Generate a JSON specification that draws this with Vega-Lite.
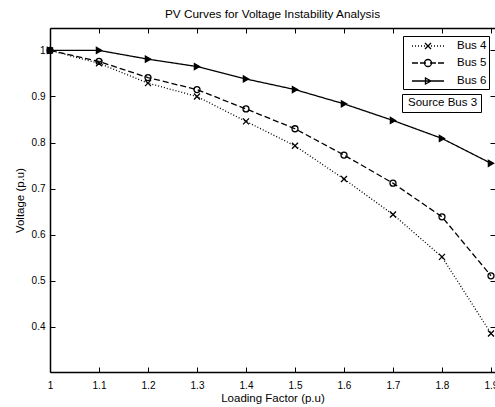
{
  "$schema": "https://vega.github.io/schema/vega-lite/v6.json",
  "width": 445,
  "height": 344,
  "autosize": {"type": "none"},
  "padding": {"left": 50, "top": 28, "right": 0, "bottom": 35},
  "background": "white",
  "title": {"text": "PV Curves for Voltage Instability Analysis", "fontSize": 11.8, "fontWeight": "normal", "font": "Liberation Sans", "color": "black", "offset": 7, "anchor": "middle"},
  "config": {
    "view": {"stroke": null},
    "font": "Liberation Sans",
    "axis": {"labelFont": "Liberation Sans", "titleFont": "Liberation Sans", "labelColor": "black", "titleColor": "black", "domainColor": "black", "tickColor": "black", "grid": false, "titleFontWeight": "normal", "labelFontSize": 10, "titleFontSize": 11.5, "domainWidth": 1.5, "tickWidth": 1, "tickSize": -5, "labelFlush": false, "labelOverlap": false, "labelBound": false}
  },
  "data": {"values": [
    {"lf": 1.0, "v": 1.0, "bus": "Bus 4"},
    {"lf": 1.1, "v": 0.972, "bus": "Bus 4"},
    {"lf": 1.2, "v": 0.929, "bus": "Bus 4"},
    {"lf": 1.3, "v": 0.900, "bus": "Bus 4"},
    {"lf": 1.4, "v": 0.846, "bus": "Bus 4"},
    {"lf": 1.5, "v": 0.793, "bus": "Bus 4"},
    {"lf": 1.6, "v": 0.721, "bus": "Bus 4"},
    {"lf": 1.7, "v": 0.644, "bus": "Bus 4"},
    {"lf": 1.8, "v": 0.552, "bus": "Bus 4"},
    {"lf": 1.9, "v": 0.386, "bus": "Bus 4"},
    {"lf": 1.0, "v": 1.0, "bus": "Bus 5"},
    {"lf": 1.1, "v": 0.976, "bus": "Bus 5"},
    {"lf": 1.2, "v": 0.941, "bus": "Bus 5"},
    {"lf": 1.3, "v": 0.915, "bus": "Bus 5"},
    {"lf": 1.4, "v": 0.873, "bus": "Bus 5"},
    {"lf": 1.5, "v": 0.830, "bus": "Bus 5"},
    {"lf": 1.6, "v": 0.773, "bus": "Bus 5"},
    {"lf": 1.7, "v": 0.712, "bus": "Bus 5"},
    {"lf": 1.8, "v": 0.639, "bus": "Bus 5"},
    {"lf": 1.9, "v": 0.511, "bus": "Bus 5"},
    {"lf": 1.0, "v": 1.0, "bus": "Bus 6"},
    {"lf": 1.1, "v": 1.0, "bus": "Bus 6"},
    {"lf": 1.2, "v": 0.981, "bus": "Bus 6"},
    {"lf": 1.3, "v": 0.965, "bus": "Bus 6"},
    {"lf": 1.4, "v": 0.938, "bus": "Bus 6"},
    {"lf": 1.5, "v": 0.915, "bus": "Bus 6"},
    {"lf": 1.6, "v": 0.884, "bus": "Bus 6"},
    {"lf": 1.7, "v": 0.848, "bus": "Bus 6"},
    {"lf": 1.8, "v": 0.809, "bus": "Bus 6"},
    {"lf": 1.9, "v": 0.755, "bus": "Bus 6"}
  ]},
  "resolve": {"axis": {"x": "independent", "y": "independent"}, "scale": {"shape": "independent"}},
  "layer": [
    {
      "mark": {"type": "line", "color": "black", "strokeWidth": 1.3},
      "encoding": {
        "x": {"field": "lf", "type": "quantitative", "scale": {"domain": [1, 1.9082], "nice": false, "zero": false},
              "axis": {"orient": "bottom", "values": [1, 1.1, 1.2, 1.3, 1.4, 1.5, 1.6, 1.7, 1.8, 1.9], "format": ".1~f", "title": "Loading Factor (p.u)", "labelPadding": 13, "titlePadding": 2, "titleColor": "black"}},
        "y": {"field": "v", "type": "quantitative", "scale": {"domain": [0.3023, 1.0486], "nice": false, "zero": false},
              "axis": {"orient": "left", "values": [0.4, 0.5, 0.6, 0.7, 0.8, 0.9, 1], "format": ".1~f", "title": "Voltage (p.u)", "labelPadding": 10, "titlePadding": 6, "titleColor": "black"}},
        "strokeDash": {"field": "bus", "type": "nominal", "scale": {"range": [[1, 2], [6, 3], [1, 0]]}, "legend": null}
      }
    },
    {
      "mark": {"type": "point", "color": "black", "stroke": "black", "strokeWidth": 1.3, "size": 36, "opacity": 1},
      "encoding": {
        "x": {"field": "lf", "type": "quantitative",
              "axis": {"orient": "top", "values": [1, 1.1, 1.2, 1.3, 1.4, 1.5, 1.6, 1.7, 1.8, 1.9], "labels": false, "title": null}},
        "y": {"field": "v", "type": "quantitative",
              "axis": {"orient": "right", "values": [0.4, 0.5, 0.6, 0.7, 0.8, 0.9, 1], "labels": false, "domain": false, "title": null}},
        "fill": {"field": "bus", "type": "nominal", "scale": {"range": ["transparent", "transparent", "black"]}, "legend": null},
        "shape": {"field": "bus", "type": "nominal", "scale": {"range": ["M-1,-1L1,1M-1,1L1,-1", "circle", "triangle-right"]}, "legend": null}
      }
    },
    {
      "mark": {"type": "point", "color": "black", "filled": false, "opacity": 0, "size": 196, "strokeWidth": 1.3},
      "encoding": {
        "shape": {"field": "bus", "type": "nominal",
          "scale": {"domain": ["Bus 4", "Bus 5", "Bus 6"], "range": [
            "M-2.29,0h0.143M-1.86,0h0.143M-1.43,0h0.143M-1,0h0.143M-0.57,0h0.143M0.43,0h0.143M0.86,0h0.143M1.29,0h0.143M1.71,0h0.143M2.14,0h0.143M-0.43,-0.43L0.43,0.43M-0.43,0.43L0.43,-0.43",
            "M-2.29,0H-1.43M-1.14,0H-0.29M0.29,0H1.14M1.43,0H2.29M0.5,0A0.5,0.5 0 1,1 -0.5,0A0.5,0.5 0 1,1 0.5,0",
            "M-2.29,0H2.29M-0.36,-0.43L0.43,0L-0.36,0.43Z"]},
          "legend": {
            "orient": "none", "legendX": 353, "legendY": 8, "title": null, "padding": 2, "rowPadding": 3,
            "symbolSize": 196, "symbolOffset": 15, "labelOffset": 21, "labelFontSize": 11.5, "labelColor": "black", "labelFont": "Liberation Sans",
            "strokeColor": "black", "fillColor": "white", "symbolStrokeWidth": 1.3, "symbolStrokeColor": "black",
            "symbolFillColor": "transparent", "symbolOpacity": 1
          }
        }
      }
    },
    {
      "data": {"values": [{"note": "Source Bus 3"}]},
      "mark": {"type": "point", "opacity": 0},
      "encoding": {
        "color": {"field": "note", "type": "nominal", "scale": {"range": ["black"]},
          "legend": {
            "orient": "none", "legendX": 352, "legendY": 66, "title": null, "padding": 3.25,
            "symbolSize": 0, "symbolStrokeWidth": 0, "symbolOpacity": 0, "labelOffset": -8.75,
            "labelFontSize": 11.5, "labelColor": "black", "labelFont": "Liberation Sans",
            "strokeColor": "black", "fillColor": "white", "labelExpr": "datum.label + '   '"
          }
        }
      }
    }
  ]
}
